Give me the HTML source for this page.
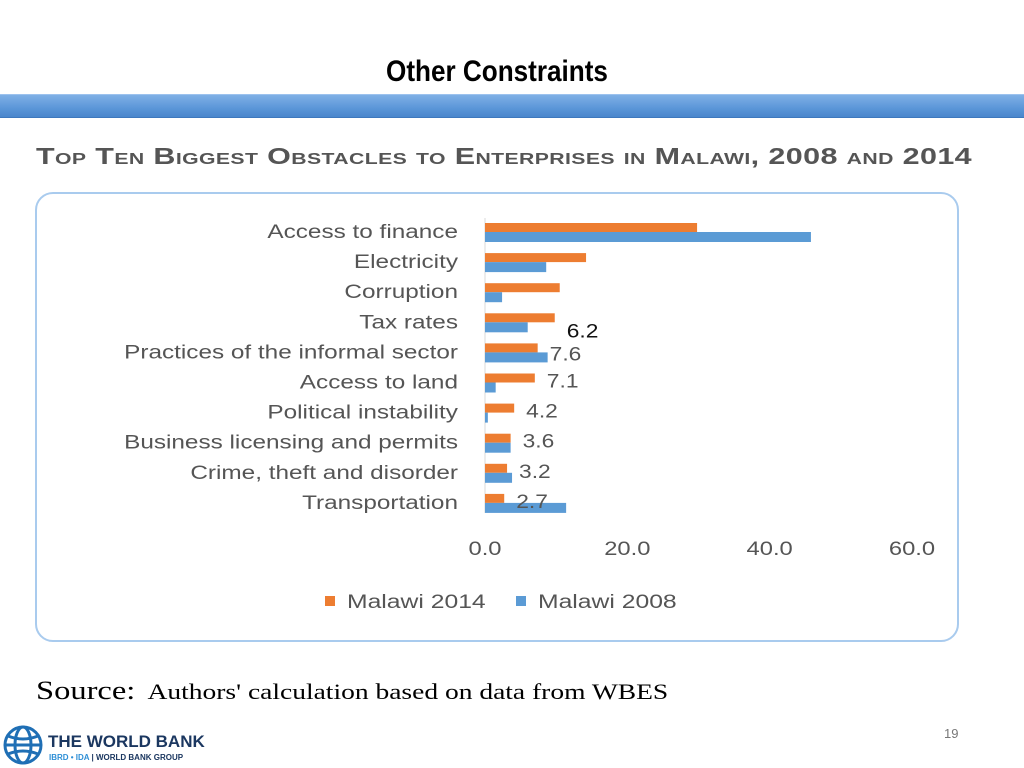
<!DOCTYPE html>
<html><head><meta charset="utf-8"><style>
body{margin:0;width:1024px;height:768px;background:#fff;position:relative;overflow:hidden;font-family:"Liberation Sans",sans-serif}
.abs{position:absolute}
</style></head><body>
<div class="abs" style="left:330px;top:55px;width:334px;text-align:center;font-size:30px;font-weight:bold;font-family:'Liberation Sans Narrow','Liberation Sans',sans-serif;transform:scaleX(0.87)">Other Constraints</div>
<div class="abs" style="left:0;top:94px;width:1024px;height:22px;background:linear-gradient(#7fb0e6,#5b96d8 60%,#4a86cc);border-top:1px solid #9cc2ee;border-bottom:1px solid #3e78bd"></div>
<div class="abs" style="left:36px;top:143px;font-size:23px;font-weight:bold;color:#555;font-variant:small-caps;letter-spacing:0.3px;white-space:nowrap;transform:scaleX(1.325);transform-origin:left center">Top Ten Biggest Obstacles to Enterprises in Malawi, 2008 and 2014</div>
<div class="abs" style="left:35px;top:192px;width:920px;height:446px;border:2px solid #a9cbee;border-radius:18px"></div>
<svg class="abs" style="left:0;top:0" width="1024" height="768" id="chart"></svg>
<div class="abs" style="left:36px;top:676px;font-family:'Liberation Serif',serif;font-size:22px;white-space:nowrap;transform:scaleX(1.25);transform-origin:left center"><span style="font-size:26px">Source:</span>&nbsp; Authors' calculation based on data from WBES</div>
<div class="abs" style="left:944px;top:726px;font-size:13px;color:#777">19</div>
<div class="abs" style="left:2px;top:724px;width:230px;height:44px">
<svg width="42" height="42" style="position:absolute;left:0;top:0"><g fill="none" stroke="#1f6fb5" stroke-width="3"><circle cx="21" cy="21" r="18"/><ellipse cx="21" cy="21" rx="8" ry="18"/><line x1="3" y1="21" x2="39" y2="21"/><path d="M6 12 Q21 18 36 12 M6 30 Q21 24 36 30"/></g></svg>
<div style="position:absolute;left:46px;top:8px;font-weight:bold;font-size:17px;color:#1b3760">THE WORLD BANK</div>
<div style="position:absolute;left:47px;top:29px;font-weight:bold;font-size:8px;color:#1b3760;white-space:nowrap"><span style="color:#2e8fd6">IBRD • IDA</span> | WORLD BANK GROUP</div>
</div>
<script>
const categories=["Access to finance","Electricity","Corruption","Tax rates","Practices of the informal sector","Access to land","Political instability","Business licensing and permits","Crime, theft and disorder","Transportation"];
const values2014=[29.8,14.2,10.5,9.8,7.4,7.0,4.1,3.6,3.1,2.7];
const values2008=[45.8,8.6,2.4,6.0,8.8,1.5,0.4,3.6,3.8,11.4];
const dataLabels=["","","","6.2","7.6","7.1","4.2","3.6","3.2","2.7"];
const ticks=[0,20,40,60];
const NS="http://www.w3.org/2000/svg";
const svg=document.getElementById('chart');
const x=v=>485+v*(912-485)/60;
const y=i=>223+i*30.1;
function mk(t,a){const e=document.createElementNS(NS,t);for(const k in a)e.setAttribute(k,a[k]);svg.appendChild(e);return e;}
function widen(t,f){const w=t.getComputedTextLength();t.setAttribute('textLength',w*f);t.setAttribute('lengthAdjust','spacingAndGlyphs');}
const ax=mk('line',{x1:485,x2:485,y1:218,y2:513,stroke:'#d9d9d9','stroke-width':1});


categories.forEach((c,i)=>{
 const t=mk('text',{x:458,y:y(i)+15,'text-anchor':'end','font-size':19,fill:'#555','font-family':'Liberation Sans,sans-serif'});
 t.textContent=c;
 
 
 widen(t,1.28);
 const b1=mk('rect',{x:485,y:y(i),width:x(values2014[i])-485,height:9,fill:'#ed7d31'});
 
 
 const b2=mk('rect',{x:485,y:y(i)+9,width:x(values2008[i])-485,height:10,fill:'#5b9bd5'});
 
 
 if(dataLabels[i]){
  const l=mk('text',{x:x(values2014[i])+12,y:y(i)+14+(i==3?10:i==4?3:0),'font-size':19,fill:i==3?'#111':'#555'});
  l.textContent=dataLabels[i];
  
  
  widen(l,1.2);
 }
});
ticks.forEach(v=>{
 const t=mk('text',{x:x(v),y:555,'text-anchor':'middle','font-size':19,fill:'#555'});
 t.textContent=v.toFixed(1);
 
 
 widen(t,1.25);
});
[["Malawi 2014","#ed7d31",325],["Malawi 2008","#5b9bd5",516]].forEach(([n,c,lx])=>{
 const r=mk('rect',{x:lx,y:596,width:10,height:10,fill:c});
 
 
 const t=mk('text',{x:lx+22,y:608,'font-size':19,fill:'#555'});
 t.textContent=n;
 
 
 widen(t,1.3);
});
</script>
</body></html>
